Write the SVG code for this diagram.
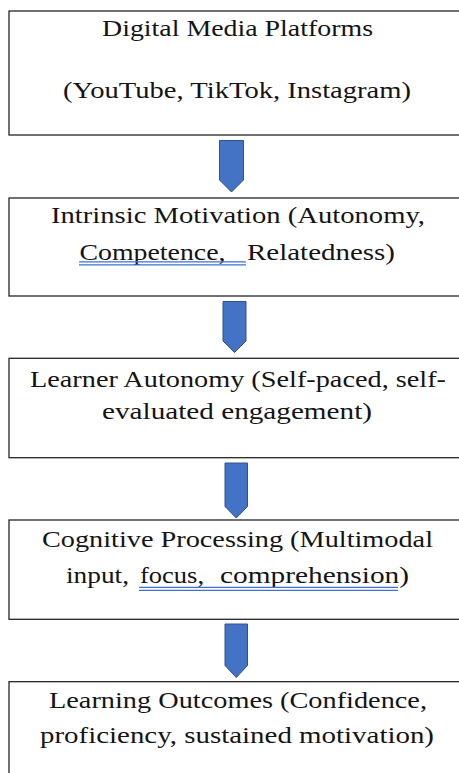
<svg xmlns="http://www.w3.org/2000/svg" width="459" height="773" viewBox="0 0 459 773">
  <style>
    .box { fill: #ffffff; stroke: #262626; stroke-width: 1.3; }
    .lbl { font-family: "Liberation Serif", "DejaVu Serif", serif; font-size: 24px; fill: #141414; }
    .mid { text-anchor: middle; }
    .arrow { fill: #4472C4; stroke: #2F528F; stroke-width: 1; stroke-linejoin: miter; }
    .uline { stroke: #3d72d4; stroke-width: 1.3; fill: none; }
  </style>
  <rect x="0" y="0" width="459" height="773" fill="#ffffff"/>

  <g id="connectors">
    <path class="arrow" d="M219.5,140.5 H243.5 V180 L231.5,192 L219.5,180 Z"/>
    <path class="arrow" d="M223,301.5 H246 V341 L234.5,352.5 L223,341 Z"/>
    <path class="arrow" d="M225,463 H247.5 V506.5 L236.3,518 L225,506.5 Z"/>
    <path class="arrow" d="M225,624 H247.5 V665.5 L236.3,677.5 L225,665.5 Z"/>
  </g>

  <g id="digital-media-platforms">
    <rect class="box" x="9" y="11" width="470" height="124"/>
    <text class="lbl mid" x="237.5" y="36" textLength="271" lengthAdjust="spacingAndGlyphs">Digital Media Platforms</text>
    <text class="lbl mid" x="237" y="98" textLength="348" lengthAdjust="spacingAndGlyphs">(YouTube, TikTok, Instagram)</text>
  </g>

  <g id="intrinsic-motivation">
    <rect class="box" x="9" y="198" width="470" height="98"/>
    <text class="lbl mid" x="238" y="223" textLength="374" lengthAdjust="spacingAndGlyphs">Intrinsic Motivation (Autonomy,</text>
    <text class="lbl" x="79.5" y="260" textLength="146" lengthAdjust="spacingAndGlyphs">Competence,</text>
    <text class="lbl" x="247" y="260" textLength="148" lengthAdjust="spacingAndGlyphs">Relatedness)</text>
    <path class="uline" d="M79,261.8 H246 M79,264.8 H246"/>
  </g>

  <g id="learner-autonomy">
    <rect class="box" x="9" y="358.3" width="470" height="99.4"/>
    <text class="lbl mid" x="238" y="387" textLength="416" lengthAdjust="spacingAndGlyphs">Learner Autonomy (Self-paced, self-</text>
    <text class="lbl mid" x="237" y="419" textLength="270" lengthAdjust="spacingAndGlyphs">evaluated engagement)</text>
  </g>

  <g id="cognitive-processing">
    <rect class="box" x="9" y="520" width="470" height="99.3"/>
    <text class="lbl mid" x="237.5" y="547" textLength="391" lengthAdjust="spacingAndGlyphs">Cognitive Processing (Multimodal</text>
    <text class="lbl" x="66" y="583" textLength="63" lengthAdjust="spacingAndGlyphs">input,</text>
    <text class="lbl" x="140" y="583" textLength="64" lengthAdjust="spacingAndGlyphs">focus,</text>
    <text class="lbl" x="220" y="583" textLength="189" lengthAdjust="spacingAndGlyphs">comprehension)</text>
    <path class="uline" d="M139,587.3 H398 M139,590.3 H398"/>
  </g>

  <g id="learning-outcomes">
    <rect class="box" x="9" y="681.7" width="470" height="110"/>
    <text class="lbl mid" x="238" y="708" textLength="378" lengthAdjust="spacingAndGlyphs">Learning Outcomes (Confidence,</text>
    <text class="lbl mid" x="237" y="743" textLength="394" lengthAdjust="spacingAndGlyphs">proficiency, sustained motivation)</text>
  </g>
</svg>
